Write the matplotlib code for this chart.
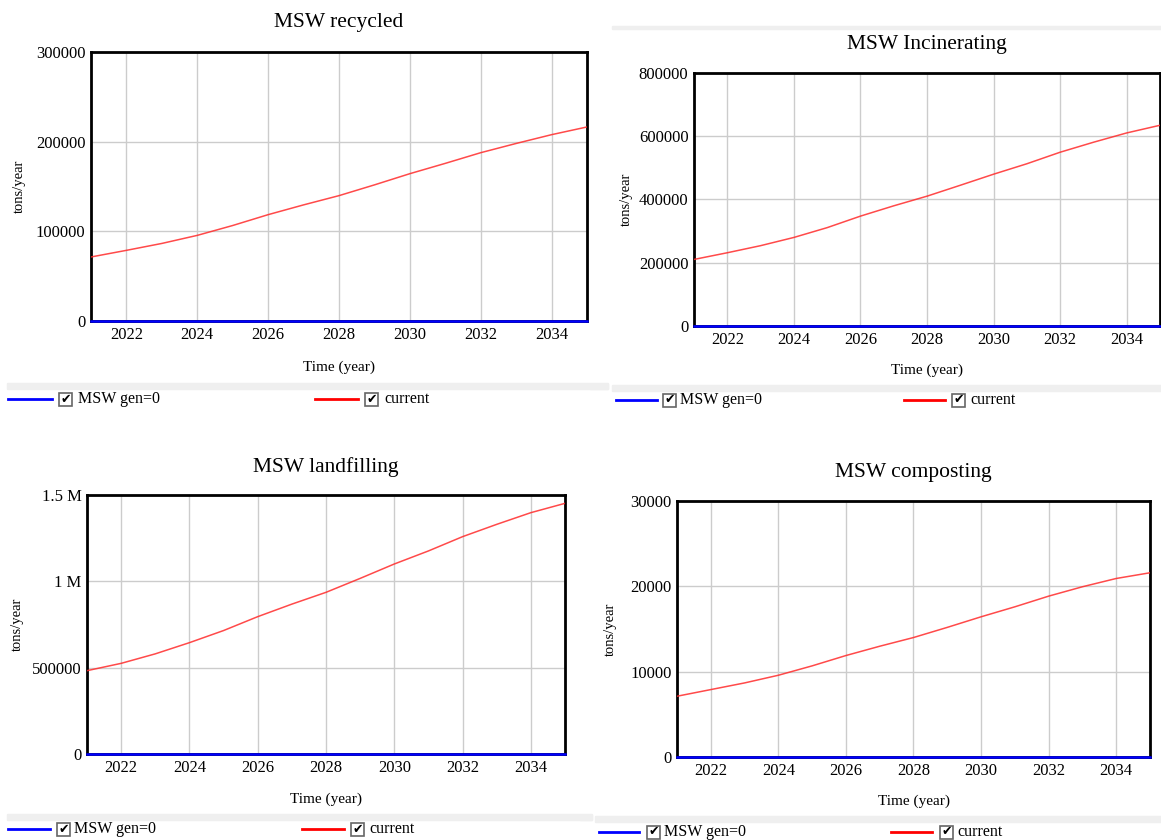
import matplotlib
matplotlib.use("Agg")
import matplotlib.pyplot as plt
from matplotlib.patches import Rectangle
from matplotlib.lines import Line2D

W, H = 1161, 840
plt.rcParams['font.family'] = ['Liberation Serif', 'DejaVu Serif']

years = [2021, 2022, 2023, 2024, 2025, 2026, 2027, 2028, 2029, 2030, 2031, 2032, 2033, 2034, 2035]
xticks = [2022, 2024, 2026, 2028, 2030, 2032, 2034]

recycled = [71400, 78800, 86500, 95500, 106500, 118600, 129500, 139800, 151800, 164300, 175800, 187700, 198000, 207800, 216400]
incinerating = [210500, 231600, 254000, 280000, 311000, 347400, 380000, 410500, 445000, 480000, 513000, 549500, 581000, 610500, 634700]
landfilling = [482600, 525000, 580000, 644800, 715000, 795400, 868000, 936300, 1017000, 1100400, 1176000, 1258700, 1330000, 1397700, 1451700]
composting = [7120, 7900, 8680, 9580, 10680, 11890, 12980, 14000, 15190, 16430, 17600, 18850, 19950, 20920, 21590]
baseline = [0] * len(years)

titles = ["MSW recycled", "MSW Incinerating", "MSW landfilling", "MSW composting"]
series_names = ["MSW gen=0", "current"]
y_label = "tons/year"
x_label = "Time (year)"

y_ticks = [[0, 100000, 200000, 300000], [0, 200000, 400000, 600000, 800000],
           [0, 500000, 1000000, 1500000], [0, 10000, 20000, 30000]]
y_ticklabels = [["0", "100000", "200000", "300000"], ["0", "200000", "400000", "600000", "800000"],
                ["0", "500000", "1 M", "1.5 M"], ["0", "10000", "20000", "30000"]]
y_max = [300000, 800000, 1500000, 30000]
data = [recycled, incinerating, landfilling, composting]

fig = plt.figure(figsize=(W / 100, H / 100), dpi=100)


def fx(x):
    return x / W


def fy(y):
    return 1 - y / H


layouts = [
    dict(l=91, r=587, t=52, b=321, title_y=22, xlabel_y=367, ylabel_x=19,
         leg_y=399, bar_y=385.5, bar_x0=7, bar_x1=608,
         blue=(8, 52), cb1=59, t1=78, red=(315, 358), cb2=365, t2=384),
    dict(l=694, r=1160, t=73, b=326, title_y=45, xlabel_y=370, ylabel_x=626,
         leg_y=400, bar_y=387.5, bar_x0=612, bar_x1=1161,
         blue=(616, 657), cb1=663, t1=680, red=(904, 945), cb2=952, t2=970),
    dict(l=87, r=565, t=495, b=754, title_y=467, xlabel_y=799, ylabel_x=17,
         leg_y=829, bar_y=817, bar_x0=7, bar_x1=592,
         blue=(8, 50), cb1=57, t1=74, red=(302, 344), cb2=351, t2=369),
    dict(l=677, r=1150, t=501, b=757, title_y=472, xlabel_y=801, ylabel_x=610,
         leg_y=832, bar_y=819, bar_x0=595, bar_x1=1161,
         blue=(599, 639), cb1=647, t1=664, red=(891, 932), cb2=940, t2=957),
]

grey = '#efefef'
txt = '#000000'

for i, L in enumerate(layouts):
    ax = fig.add_axes([fx(L['l']), fy(L['b']), fx(L['r'] - L['l']), (L['b'] - L['t']) / H])
    ax.plot(years, data[i], color='#ff2a2a', lw=1.1, alpha=0.85, zorder=3)
    ax.plot(years, baseline, color='#0000ff', lw=1.8, zorder=4, clip_on=False)
    ax.set_xlim(2021, 2035)
    ax.set_ylim(0, y_max[i])
    ax.set_xticks(xticks)
    ax.set_xticklabels([str(v) for v in xticks], fontsize=12)
    ax.set_yticks(y_ticks[i])
    ax.set_yticklabels(y_ticklabels[i], fontsize=12)
    ax.tick_params(length=0, pad=4, colors=txt)
    ax.grid(True, color='#cccccc', lw=1.0)
    ax.set_axisbelow(True)
    for s in ax.spines.values():
        s.set_linewidth(2)
        s.set_color('black')
    cx = (L['l'] + L['r']) / 2
    fig.text(fx(cx), fy(L['title_y']), titles[i], ha='center', va='center', fontsize=15.5, color=txt)
    fig.text(fx(cx), fy(L['xlabel_y']), x_label, ha='center', va='center', fontsize=11, color=txt)
    fig.text(fx(L['ylabel_x']), fy((L['t'] + L['b']) / 2), y_label, ha='center', va='center',
             rotation=90, fontsize=10.5, color=txt)

    # legend strip
    fig.patches.append(Rectangle((fx(L['bar_x0']), fy(L['bar_y'] + 3)), fx(L['bar_x1'] - L['bar_x0']), 6 / H,
                                 transform=fig.transFigure, color=grey, zorder=0))
    ly = fy(L['leg_y'])
    fig.lines.append(Line2D([fx(L['blue'][0]), fx(L['blue'][1])], [ly, ly], color='#0000ff', lw=2,
                            transform=fig.transFigure))
    fig.lines.append(Line2D([fx(L['red'][0]), fx(L['red'][1])], [ly, ly], color='#ff0000', lw=2,
                            transform=fig.transFigure))
    for cbx in (L['cb1'], L['cb2']):
        fig.patches.append(Rectangle((fx(cbx), fy(L['leg_y'] + 6.5)), fx(13), 13 / H,
                                     transform=fig.transFigure, facecolor='white', edgecolor='#666666', lw=1.2))
        fig.text(fx(cbx + 6.5), ly, "\u2714", ha='center', va='center', fontsize=9,
                 family=['DejaVu Sans'], color='#000000')
    fig.text(fx(L['t1']), ly, series_names[0], ha='left', va='center', fontsize=11.5, color=txt)
    fig.text(fx(L['t2']), ly, series_names[1], ha='left', va='center', fontsize=11.5, color=txt)

# extra grey separators
fig.patches.append(Rectangle((fx(612), fy(28.5)), fx(549), 2.5 / H, transform=fig.transFigure, color=grey))
fig.patches.append(Rectangle((fx(590), fy(389)), fx(18), 5 / H, transform=fig.transFigure, color=grey))
fig.patches.append(Rectangle((fx(580), fy(820)), fx(12), 5 / H, transform=fig.transFigure, color=grey))

fig.savefig("out.png", dpi=100, facecolor='white')
